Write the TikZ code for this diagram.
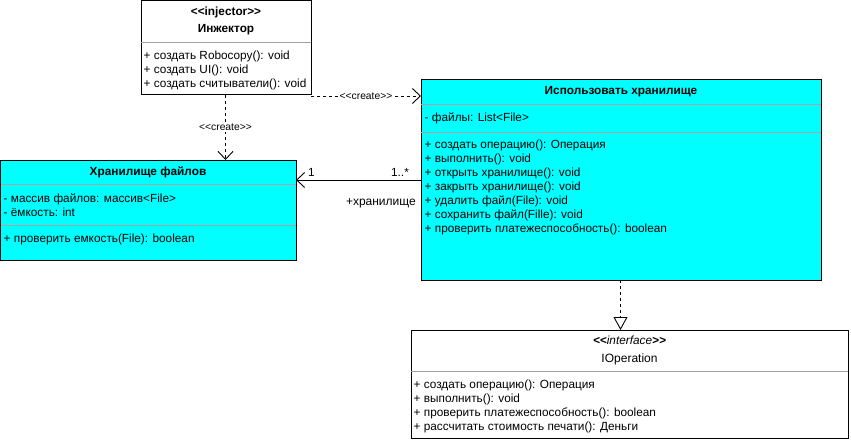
\documentclass[tikz,border=0pt]{standalone}
\usepackage{fontspec}
\setmainfont{Liberation Sans}[Ligatures=TeXOff]
\usetikzlibrary{arrows.meta,calc}
\definecolor{cyanfill}{RGB}{0,255,255}
\definecolor{sepgray}{RGB}{180,160,160}
\definecolor{sepgrayw}{RGB}{160,160,160}
\begin{document}
\begin{tikzpicture}[x=1pt,y=-1pt,
  box/.style={draw, line width=1pt, anchor=north west, inner sep=0pt, outer sep=0pt, fill=white},
  cls/.style={box, fill=cyanfill},
  txt/.style={anchor=base west, inner sep=0pt, font=\fontsize{11.8}{13}\selectfont},
  ttl/.style={anchor=base, inner sep=0pt, font=\bfseries\fontsize{11.8}{13}\selectfont},
  sep/.style={draw=sepgray, line width=0.8pt},
  sepw/.style={draw=sepgrayw, line width=0.8pt},
  lbl/.style={font=\fontsize{10.3}{11}\selectfont, fill=white, inner sep=1pt},
  dep/.style={dashed, dash pattern=on 3pt off 3pt, line width=0.9pt, -{Straight Barb[length=8pt,width=15pt,line width=0.9pt]}},
  real/.style={dashed, dash pattern=on 3pt off 3pt, line width=0.9pt, -{Triangle[open,length=13pt,width=14pt,line width=0.9pt,fill=white]}},
  assoc/.style={line width=0.9pt, -{Straight Barb[length=8pt,width=15pt,line width=0.9pt]}}
]
\useasboundingbox (0,0) rectangle (851,441);

% Injector
\node[box, minimum width=170pt, minimum height=94pt] (inj) at (141,1) {};
\draw[sepw] (inj.west |- 0,42) -- (inj.east |- 0,42);
\node[ttl] (injst) at (226,15.5) {<<injector>>};
\node[ttl] (injnm) at (226,33) {Инжектор};
\node[txt] (inj1) at (143.5,60) {+ создать Robocopy(): void};
\node[txt] (inj2) at (143.5,74) {+ создать UI(): void};
\node[txt] (inj3) at (143.5,88) {+ создать считыватели(): void};

% Use storage
\node[cls, minimum width=400pt, minimum height=200pt] (use) at (421,80) {};
\draw[sep] (use.west |- 0,104) -- (use.east |- 0,104);
\draw[sep] (use.west |- 0,132) -- (use.east |- 0,132);
\node[ttl] (usenm) at (621,94.5) {Использовать хранилище};
\node[txt] (usea1) at (424.5,122) {- файлы: List<File>};
\node[txt] (usem1) at (424.5,148.5) {+ создать операцию(): Операция};
\node[txt] (usem2) at (424.5,162.5) {+ выполнить(): void};
\node[txt] (usem3) at (424.5,176.5) {+ открыть хранилище(): void};
\node[txt] (usem4) at (424.5,190.5) {+ закрыть хранилище(): void};
\node[txt] (usem5) at (424.5,204.5) {+ удалить файл(File): void};
\node[txt] (usem6) at (424.5,218.5) {+ сохранить файл(Fille): void};
\node[txt] (usem7) at (424.5,232.5) {+ проверить платежеспособность(): boolean};

% File storage
\node[cls, minimum width=295.5pt, minimum height=100pt] (fs) at (0.5,160) {};
\draw[sep] (fs.west |- 0,184) -- (fs.east |- 0,184);
\draw[sep] (fs.west |- 0,225) -- (fs.east |- 0,225);
\node[ttl] (fsnm) at (148,175.5) {Хранилище файлов};
\node[txt] (fsa1) at (3.5,202) {- массив файлов: массив<File>};
\node[txt] (fsa2) at (3.5,216) {- ёмкость: int};
\node[txt] (fsm1) at (3.5,242.5) {+ проверить емкость(File): boolean};

% IOperation
\node[box, minimum width=437pt, minimum height=108pt] (iop) at (411,330) {};
\draw[sepw] (iop.west |- 0,371) -- (iop.east |- 0,371);
\node[anchor=base, inner sep=0pt, font=\itshape\fontsize{11.8}{13}\selectfont] (iopst) at (629.5,344.5) {\textbf{<<}interface\textbf{>>}};
\node[anchor=base, inner sep=0pt, font=\fontsize{12}{13}\selectfont] (iopnm) at (629.5,362) {IOperation};
\node[txt] (iopm1) at (413.5,388.5) {+ создать операцию(): Операция};
\node[txt] (iopm2) at (413.5,402.5) {+ выполнить(): void};
\node[txt] (iopm3) at (413.5,416.5) {+ проверить платежеспособность(): boolean};
\node[txt] (iopm4) at (413.5,430.5) {+ рассчитать стоимость печати(): Деньги};

% Connectors
\draw[dep] ([xshift=-0.5pt]inj.south) -- ([xshift=-0.5pt]inj.south |- fs.north)
  node[lbl, pos=0.5] (c1) {<<create>>};
\draw[dep] ([yshift=-1pt]inj.south east) -- ([yshift=-1pt]use.west |- inj.south east)
  node[lbl, midway] (c2) {<<create>>};
\draw[assoc] (use.west) -- (use.west -| fs.east);
\node[anchor=base, inner sep=0pt, font=\fontsize{11.8}{13}\selectfont] (m1) at (311.5,176) {1};
\node[anchor=base, inner sep=0pt, font=\fontsize{11.8}{13}\selectfont] (m2) at (400,176) {1..*};
\node[anchor=base east, inner sep=0pt, font=\fontsize{12}{13}\selectfont] (role) at (416,205) {+хранилище};
\draw[real] ([xshift=-0.5pt]use.south) -- ([xshift=-0.5pt]use.south |- iop.north);
\end{tikzpicture}
\end{document}
